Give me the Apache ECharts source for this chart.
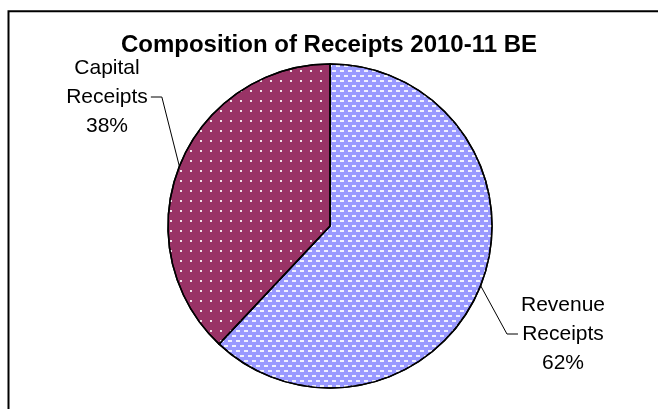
<!DOCTYPE html>
<html>
<head>
<meta charset="utf-8">
<script src="https://cdn.jsdelivr.net/npm/echarts@6/dist/echarts.min.js"></script>
<style>
  html, body { margin: 0; padding: 0; background: #fff; }
  #chart { width: 658px; height: 409px; }
</style>
</head>
<body>
<div id="chart"></div>
<script>
// ---- data ----
var titleText = 'Composition of Receipts 2010-11 BE';
var categories = ['Revenue Receipts', 'Capital Receipts'];
var values = [62, 38];

// ---- styles / layout ----
var sliceColors = ['#9999FF', '#993366'];
var sliceDecals = [
  { symbol: 'rect', symbolSize: 1, color: 'rgba(255,255,255,0.85)',
    dashArrayX: [[4, 4], [0, 4, 4, 0]], dashArrayY: [1.4, 2.9] },
  { symbol: 'rect', symbolSize: 1, color: 'rgba(255,255,255,0.85)',
    dashArrayX: [2, 8], dashArrayY: [2, 7.3] }
];
var labelAnchors = [
  { x: 563, y: 334, side: 'left' },
  { x: 107, y: 97, side: 'right' }
];
var FONT = '"Liberation Sans", Arial, sans-serif';

var chart = echarts.init(document.getElementById('chart'));

var pieData = categories.map(function (c, i) {
  return {
    name: c,
    value: values[i],
    itemStyle: { color: sliceColors[i], decal: sliceDecals[i] }
  };
});

chart.setOption({
  animation: false,
  backgroundColor: '#fff',
  title: {
    text: titleText,
    left: 'center',
    top: 28,
    textStyle: { fontFamily: FONT, fontWeight: 'bold', fontSize: 24, color: '#000' }
  },
  graphic: [{
    type: 'rect',
    shape: { x: 8.5, y: 11.3, width: 700, height: 500 },
    style: { fill: null, stroke: '#000', lineWidth: 2 },
    silent: true
  }],
  series: [{
    type: 'pie',
    center: [330, 226],
    radius: 162,
    startAngle: 90,
    clockwise: true,
    avoidLabelOverlap: false,
    data: pieData,
    itemStyle: { borderColor: '#000', borderWidth: 1.5 },
    label: {
      show: true,
      position: 'outside',
      fontFamily: FONT,
      fontSize: 21,
      lineHeight: 29,
      color: '#000',
      align: 'center',
      formatter: function (p) {
        return p.name.replace(' ', '\n') + '\n' + Math.round(p.percent) + '%';
      }
    },
    labelLine: {
      show: true,
      length: 20,
      length2: 10,
      lineStyle: { color: '#000', width: 1 }
    },
    labelLayout: function (p) {
      var a = labelAnchors[p.dataIndex];
      var hw = p.labelRect.width / 2;
      var dir = a.side === 'right' ? 1 : -1;
      var p0 = p.labelLinePoints ? p.labelLinePoints[0] : [a.x, a.y];
      return {
        x: a.x,
        y: a.y,
        align: 'center',
        verticalAlign: 'middle',
        labelLinePoints: [
          p0,
          [a.x + dir * (hw + 14), a.y],
          [a.x + dir * (hw + 3), a.y]
        ]
      };
    },
    emphasis: { disabled: true }
  }]
});
</script>
</body>
</html>
